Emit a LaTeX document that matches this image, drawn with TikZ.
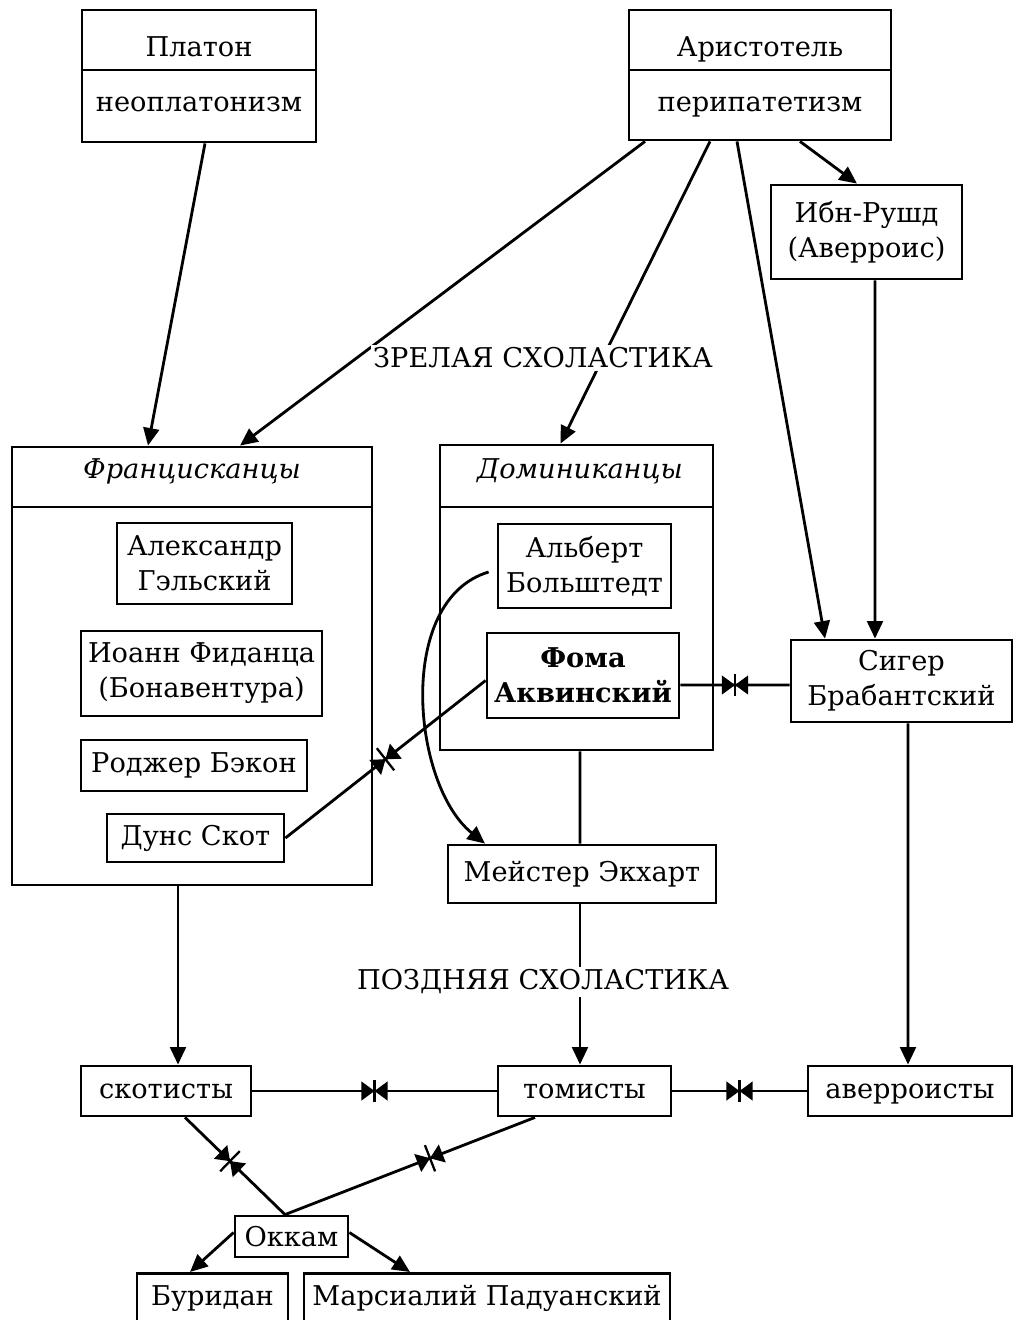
\documentclass[tikz,border=0pt]{standalone}
\usepackage{fontspec}
\setmainfont{DejaVu Serif}
\usetikzlibrary{arrows.meta,calc}
\newcommand\fsz{\fontsize{15.5}{20}\selectfont}
% opposition marker: [pos]{start}{end}{bar half-length}
\newcommand\oppmark[4][0.5]{%
  \coordinate (om) at ($(#2)!#1!(#3)$);
  \coordinate (oa) at ($(om)!7.5pt!(#2)$);
  \coordinate (ob) at ($(om)!7.5pt!(#3)$);
  \fill[black] (om) -- ($(oa)!5.5pt!90:(om)$) -- ($(oa)!5.5pt!-90:(om)$) -- cycle;
  \fill[black] (om) -- ($(ob)!5.5pt!90:(om)$) -- ($(ob)!5.5pt!-90:(om)$) -- cycle;
  \draw[black, line width=1.3pt] ($(om)!#4!90:(#2)$) -- ($(om)!#4!-90:(#2)$);
}
\begin{document}
\begin{tikzpicture}[x=0.02cm,y=-0.02cm,
  bx/.style={draw, line width=1.6pt, inner sep=0pt, align=center, font=\fsz},
  sz/.style 2 args={minimum width=#1*0.02cm, minimum height=#2*0.02cm},
  txt/.style={inner sep=0pt, align=center, font=\fsz},
  lbl/.style={fill=white, inner sep=1.5pt, font=\fsz},
  ln/.style={line width=1.6pt},
  arr/.style={ln, -{Triangle[length=10pt,width=9pt]}}
]
\useasboundingbox (0,0) rectangle (1014,1320);
\clip (0,0) rectangle (1014,1320);

% top boxes
\node[bx, sz={234}{132}] (plat) at (199,76) {};
\coordinate (d1) at (0,70);
\draw[ln] (plat.west |- d1) -- (plat.east |- d1);
\node[txt, anchor=base] (platn) at (199,56) {Платон};
\node[txt, anchor=base] (platt) at (199,111) {неоплатонизм};

\node[bx, sz={262}{130}] (ar) at (760,75) {};
\draw[ln] (ar.west |- d1) -- (ar.east |- d1);
\node[txt, anchor=base] (arn) at (760,56) {Аристотель};
\node[txt, anchor=base] (art) at (760,111) {перипатетизм};

\node[bx, sz={191}{94}] (ibn) at (866.5,232) {Ибн-Рушд\\(Аверроис)};

% Franciscans
\node[bx, sz={360}{438}] (fran) at (192,666) {};
\coordinate (d2) at (0,507);
\draw[ln] (fran.west |- d2) -- (fran.east |- d2);
\node[txt, anchor=base, font=\fsz\itshape] (franh) at (192,478) {Францисканцы};
\node[bx, sz={175}{81}] (alex) at (204.5,563.5) {Александр\\Гэльский};
\node[bx, sz={241}{85}] (ioann) at (201.5,673.5) {Иоанн Фиданца\\(Бонавентура)};
\node[bx, sz={226}{51}] (roger) at (194,765.5) {Роджер Бэкон};
\node[bx, sz={177}{48}] (duns) at (195.5,838) {Дунс Скот};

% Dominicans
\node[bx, sz={273}{305}] (dom) at (576.5,597.5) {};
\draw[ln] (dom.west |- d2) -- (dom.east |- d2);
\node[txt, anchor=base, font=\fsz\itshape] (domh) at (580,478) {Доминиканцы};
\node[bx, sz={173}{84}] (alb) at (584.5,566) {Альберт\\Больштедт};
\node[bx, sz={192}{85}, font=\fsz\bfseries] (foma) at (583,675.5) {Фома\\Аквинский};

\node[bx, sz={221}{82}] (siger) at (901.5,681) {Сигер\\Брабантский};
\node[bx, sz={268}{58}] (eck) at (582,874) {Мейстер Экхарт};

\node[bx, sz={170}{50}] (scot) at (166,1091) {скотисты};
\node[bx, sz={173}{50}] (tom) at (584.5,1091) {томисты};
\node[bx, sz={204}{50}, text depth=0pt] (aver) at (910,1091) {аверроисты};

\node[bx, sz={113}{41}] (ok) at (291.5,1236.5) {Оккам};
\node[bx, sz={151}{70}, anchor=north] (bur) at (212.5,1272) {};
\node[txt, anchor=base] (burt) at (212.5,1305) {Буридан};
\node[bx, sz={366}{70}, anchor=north] (mars) at (487,1272) {};
\node[txt, anchor=base] (marst) at (487,1305) {Марсиалий Падуанский};

% connectors
\draw[arr] ($(plat.south)+(6,0)$) -- ($(fran.north)+(-44,0)$);
\draw[arr] ($(ar.south)+(-115,0)$) -- ($(fran.north)+(48,0)$);
\draw[arr] ($(ar.south)+(-50,0)$) -- ($(dom.north)+(-16,0)$);
\draw[arr] ($(ar.south)+(-23,0)$) -- ($(siger.north)+(-76.5,0)$);
\draw[arr] ($(ar.south)+(40,0)$) -- ($(ibn.north)+(-9.5,0)$);
\draw[arr] ($(ibn.south)+(8.5,0)$) -- ($(siger.north)+(-26.5,0)$);

\coordinate (fs1) at ($(foma.east)+(0,9.5)$);
\coordinate (fs2) at ($(siger.west)+(0,4)$);
\draw[ln] (fs1) -- (fs2);
\oppmark{fs1}{fs2}{6pt}

\coordinate (df2) at ($(foma.west)+(0,5)$);
\draw[ln] (duns.east) -- (df2);
\oppmark{duns.east}{df2}{8pt}

\draw[arr] ($(alb.west)+(-8,6)$) .. controls (395,600) and (412,785) .. ($(eck.north)+(-97,0)$);
\draw[ln] ($(dom.south)+(3.5,0)$) -- ($(eck.north)+(-2,0)$);
\draw[arr] ($(eck.south)+(-2,0)$) -- ($(tom.north)+(-4.5,0)$);
\draw[arr] ($(fran.south)+(-14,0)$) -- ($(scot.north)+(12,0)$);
\draw[arr] ($(siger.south)+(6.5,0)$) -- ($(aver.north)+(-2,0)$);

\draw[ln] (scot.east) -- (tom.west);
\oppmark{scot.east}{tom.west}{6pt}
\draw[ln] (tom.east) -- (aver.west);
\oppmark{tom.east}{aver.west}{6pt}

\coordinate (okt) at ($(ok.north)+(-6.5,0)$);
\coordinate (so1) at ($(scot.south)+(19,0)$);
\coordinate (to1) at ($(tom.south)+(-49.5,0)$);
\draw[ln] (so1) -- (okt);
\oppmark[0.45]{so1}{okt}{8pt}
\draw[ln] (to1) -- (okt);
\oppmark[0.42]{to1}{okt}{8pt}

\draw[arr] ($(ok.west)+(0,-4)$) -- ($(bur.north)+(-22.5,0)$);
\draw[arr] ($(ok.east)+(0,-4)$) -- ($(mars.north)+(-77,0)$);

% period labels
\node[lbl] (mature) at (543,358) {ЗРЕЛАЯ СХОЛАСТИКА};
\node[lbl] (late) at (543,982) {ПОЗДНЯЯ СХОЛАСТИКА};
\end{tikzpicture}
\end{document}
